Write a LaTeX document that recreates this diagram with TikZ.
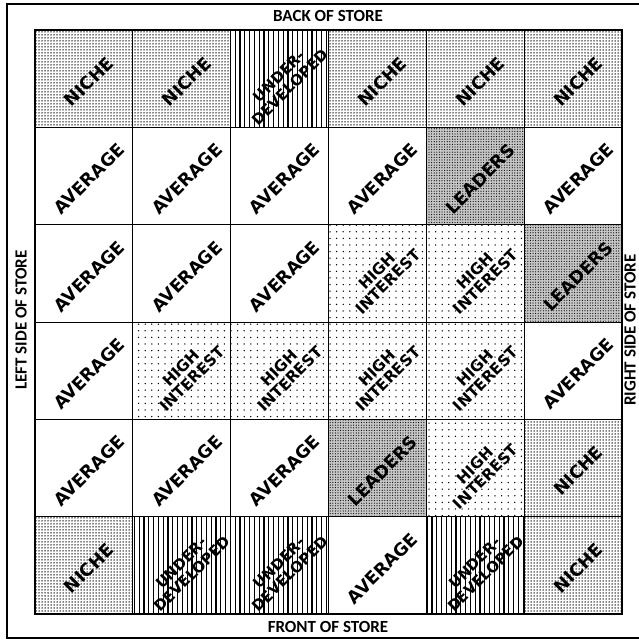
\documentclass[tikz,border=0pt]{standalone}
\usepackage{fontspec}
\setmainfont{DejaVu Sans}
\newfontfamily\lblfont{Carlito}
\usetikzlibrary{patterns.meta}
\newcommand\txtfniche{NICHE}
\newcommand\txtfavg{AVERAGE}
\newcommand\txtflead{LEADERS}
\newcommand\txtfhi{HIGH\\INTEREST}
\newcommand\txtfud{UNDER-\\DEVELOPED}
\begin{document}
\begin{tikzpicture}[x=1pt,y=-1pt,
  cellbox/.style={draw, line width=0.8pt, minimum width=97.83pt, minimum height=97.33pt, inner sep=0pt, outer sep=0pt},
  fniche/.style={preaction={fill=white}, pattern={Dots[radius=0.75pt,distance=3pt]}},
  favg/.style={fill=white},
  flead/.style={preaction={fill=gray!45}, pattern={Dots[radius=0.6pt,distance=2.6pt]}},
  fhi/.style={preaction={fill=white}, pattern={Dots[radius=0.75pt,distance=6.6pt]}},
  fud/.style={preaction={fill=white}, pattern={Lines[angle=90,distance=4.8pt,line width=1.3pt]}},
  celltext/.style={rotate=45, align=center, inner sep=0pt},
  tfniche/.style={font=\bfseries\fontsize{17.5}{16}\selectfont},
  tfavg/.style={font=\bfseries\fontsize{17.5}{16}\selectfont},
  tflead/.style={font=\bfseries\fontsize{17.5}{16}\selectfont},
  tfhi/.style={font=\bfseries\fontsize{15.5}{15.5}\selectfont},
  tfud/.style={font=\bfseries\fontsize{15}{15.5}\selectfont},
  sidetext/.style={font=\lblfont\bfseries\fontsize{17}{17}\selectfont, inner sep=0pt}]
\useasboundingbox (0,0) rectangle (639,641);
\clip (0,0) rectangle (639,641);
\fill[white] (0,0) rectangle (639,641);
% outer frame
\draw[line width=2pt] (650,4) -- (7,4) -- (7,638) -- (650,638);
% cells
\foreach \r/\c/\k in {
 1/1/fniche,1/2/fniche,1/3/fud,1/4/fniche,1/5/fniche,1/6/fniche,
 2/1/favg,2/2/favg,2/3/favg,2/4/favg,2/5/flead,2/6/favg,
 3/1/favg,3/2/favg,3/3/favg,3/4/fhi,3/5/fhi,3/6/flead,
 4/1/favg,4/2/fhi,4/3/fhi,4/4/fhi,4/5/fhi,4/6/favg,
 5/1/favg,5/2/favg,5/3/favg,5/4/flead,5/5/fhi,5/6/fniche,
 6/1/fniche,6/2/fud,6/3/fud,6/4/favg,6/5/fud,6/6/fniche}{
  \node[cellbox,\k] (cell\r\c) at ({35+97.83*(\c-0.5)},{30+97.33*(\r-0.5)}) {};
  \node[celltext,t\k] (text\r\c) at ([xshift=5pt,yshift=-3pt]cell\r\c.center) {\csname txt\k\endcsname};
}
\draw[line width=1.8pt] (cell11.north west) rectangle (cell66.south east);
% side labels
\node[sidetext] (back) at (328,16) {BACK OF STORE};
\node[sidetext] (front) at (328,627) {FRONT OF STORE};
\node[sidetext, rotate=90] (left) at (21,320) {LEFT SIDE OF STORE};
\node[sidetext, rotate=90] (right) at (630,330) {RIGHT SIDE OF STORE};
\end{tikzpicture}
\end{document}
